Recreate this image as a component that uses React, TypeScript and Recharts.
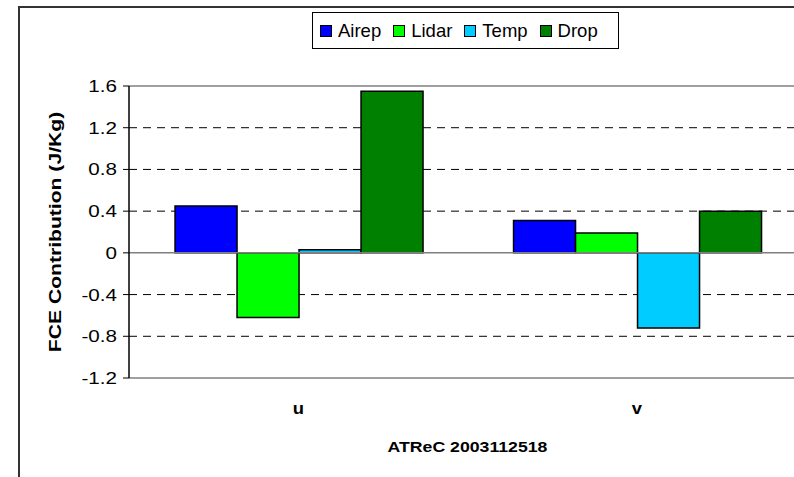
import React from "react";
import {
  BarChart,
  Bar,
  XAxis,
  YAxis,
  CartesianGrid,
  ReferenceLine,
  Label,
} from "recharts";

const categories = ["u", "v"];
const airep = [0.45, 0.31];
const lidar = [-0.62, 0.19];
const temp = [0.03, -0.72];
const drop = [1.55, 0.4];

const seriesNames = ["Airep", "Lidar", "Temp", "Drop"];
const seriesColors = ["#0000FF", "#00FF00", "#00CCFF", "#008000"];
const seriesValues = [airep, lidar, temp, drop];

const yTicks = [-1.2, -0.8, -0.4, 0, 0.4, 0.8, 1.2, 1.6];
const gridValues = [-0.8, -0.4, 0.4, 0.8, 1.2];

const data = categories.map((name, i) => {
  const row: Record<string, string | number> = { name };
  seriesNames.forEach((s, j) => {
    row[s] = seriesValues[j][i];
  });
  return row;
});

const FONT = '"Liberation Sans", Arial, sans-serif';

function YTick({ x, y, payload }: any) {
  const v = payload.value as number;
  const txt = v === 0 ? "0" : v.toFixed(1);
  return (
    <g transform={`translate(${x},${y})`}>
      <text
        transform="scale(1.25,1)"
        textAnchor="end"
        dy="0.36em"
        fontSize={16.5}
        fontFamily={FONT}
        fill="#000"
      >
        {txt}
      </text>
    </g>
  );
}

function XTick({ x, y, payload }: any) {
  return (
    <g transform={`translate(${x},${y})`}>
      <text
        transform="scale(1.15,1)"
        textAnchor="middle"
        dy={36}
        fontSize={16}
        fontWeight="bold"
        fontFamily={FONT}
        fill="#000"
      >
        {payload.value}
      </text>
    </g>
  );
}

function XTitle({ viewBox }: any) {
  const cx = viewBox.x + viewBox.width / 2;
  const cy = viewBox.y + 74;
  return (
    <g transform={`translate(${cx},${cy})`}>
      <text
        transform="scale(1.22,1)"
        textAnchor="middle"
        fontSize={14.5}
        fontWeight="bold"
        fontFamily={FONT}
        fill="#000"
      >
        ATReC 2003112518
      </text>
    </g>
  );
}

function YTitle({ viewBox }: any) {
  const cy = viewBox.y + viewBox.height / 2;
  return (
    <g transform={`translate(61,${cy}) rotate(-90)`}>
      <text
        transform="scale(1.28,1)"
        textAnchor="middle"
        fontSize={16.5}
        fontWeight="bold"
        fontFamily={FONT}
        fill="#000"
      >
        FCE Contribution (J/Kg)
      </text>
    </g>
  );
}

function LegendBox() {
  return (
    <div
      style={{
        position: "absolute",
        left: 312,
        top: 12,
        width: 298,
        height: 35,
        border: "1px solid #000",
        background: "#fff",
        display: "flex",
        alignItems: "center",
        paddingLeft: 7,
        boxSizing: "content-box",
        fontFamily: FONT,
        fontSize: 18.5,
        color: "#000",
        zIndex: 2,
      }}
    >
      {seriesNames.map((s, i) => (
        <div key={s} style={{ display: "flex", alignItems: "center", marginRight: 12 }}>
          <span
            style={{
              display: "inline-block",
              width: 10,
              height: 10,
              background: seriesColors[i],
              border: "1px solid #000",
              marginRight: 6,
            }}
          />
          <span style={{ lineHeight: "18px" }}>{s}</span>
        </div>
      ))}
    </div>
  );
}

export default function App() {
  return (
    <div
      style={{
        position: "fixed",
        left: 0,
        top: 0,
        width: 794,
        height: 477,
        overflow: "hidden",
        background: "#fff",
      }}
    >
      <div
        style={{
          position: "absolute",
          left: 18,
          top: 6,
          width: 900,
          height: 600,
          borderLeft: "2px solid #333",
          borderTop: "2px solid #333",
        }}
      />
      <LegendBox />
      <div style={{ position: "absolute", left: 0, top: 0 }}>
        <BarChart
          width={830}
          height={477}
          data={data}
          margin={{ top: 86, right: 24, left: 0, bottom: 0 }}
          barGap={0}
          barCategoryGap="13.6%"
        >
          <CartesianGrid
            vertical={false}
            horizontalValues={gridValues}
            stroke="#000"
            strokeDasharray="8 6"
          />
          <XAxis
            dataKey="name"
            height={99}
            tickLine={false}
            tickSize={0}
            tickMargin={0}
            axisLine={{ stroke: "#808080", strokeWidth: 1.5 }}
            tick={<XTick />}
          >
            <Label content={<XTitle />} />
          </XAxis>
          <YAxis
            width={129}
            domain={[-1.2, 1.6]}
            ticks={yTicks}
            interval={0}
            allowDataOverflow
            tickSize={6}
            tickMargin={6}
            axisLine={{ stroke: "#000", strokeWidth: 1.5 }}
            tickLine={{ stroke: "#000" }}
            tick={<YTick />}
          >
            <Label content={<YTitle />} />
          </YAxis>
          <ReferenceLine y={1.6} stroke="#808080" strokeWidth={1.5} />
          <ReferenceLine y={0} stroke="#808080" strokeWidth={1.5} />
          {seriesNames.map((s, i) => (
            <Bar
              key={s}
              dataKey={s}
              fill={seriesColors[i]}
              stroke="#000"
              strokeWidth={1.5}
              isAnimationActive={false}
            />
          ))}
        </BarChart>
      </div>
    </div>
  );
}
